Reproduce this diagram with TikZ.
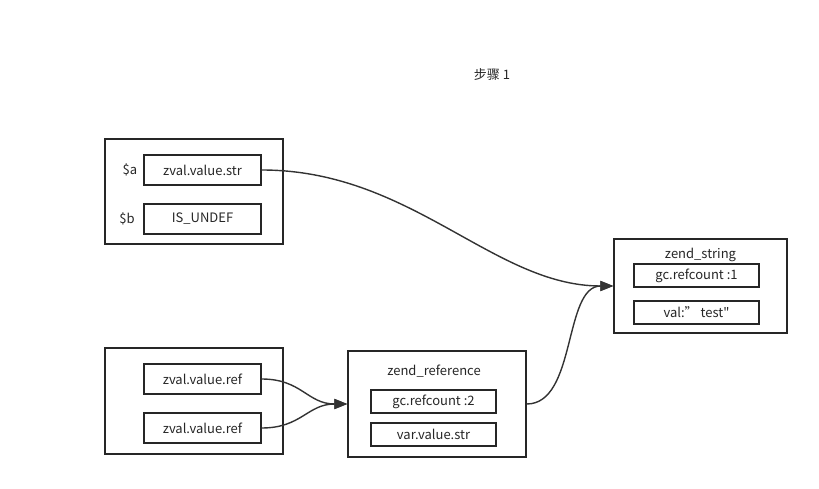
\documentclass[tikz,border=0pt]{standalone}
\usepackage{fontspec}
\setmainfont{Noto Sans CJK SC}[Ligatures=TeXOff]
\usetikzlibrary{arrows.meta}
\begin{document}
\begin{tikzpicture}[x=1pt,y=-1pt,
  box/.style={draw=black!85,line width=1.4pt,inner sep=0pt},
  lbl/.style={font=\fontsize{13}{15}\selectfont,text=black!85,inner sep=0pt},
  conn/.style={draw=black!80,line width=1.4pt,-{Triangle[length=13pt,width=10pt]}}]
\useasboundingbox (0,0) rectangle (819,489);
\node[lbl] (title) at (492,75) {步骤 1};
% group a/b
\node[box,minimum width=178pt,minimum height=105pt] (g1) at (194,191.5) {};
\node[box,lbl,minimum width=117pt,minimum height=30pt] (za) at (202.5,170) {zval.value.str};
\node[box,lbl,minimum width=117pt,minimum height=30pt] (zb) at (202.5,219) {IS\_UNDEF};
\node[lbl] (la) at (130,170) {\$a};
\node[lbl] (lb) at (127,219) {\$b};
% zend_string
\node[box,minimum width=173pt,minimum height=94pt] (zs) at (700.5,286) {};
\node[lbl] (zst) at (700.5,255) {zend\_string};
\node[box,lbl,minimum width=125pt,minimum height=23pt] (zs1) at (696.5,275.5) {gc.refcount :1};
\node[box,lbl,minimum width=125pt,minimum height=23pt] (zs2) at (696.5,312.5) {val:”\hspace{3pt}test"};
% group refs
\node[box,minimum width=178pt,minimum height=106pt] (g2) at (194,401) {};
\node[box,lbl,minimum width=117pt,minimum height=30pt] (r1) at (202.5,379) {zval.value.ref};
\node[box,lbl,minimum width=117pt,minimum height=30pt] (r2) at (202.5,428) {zval.value.ref};
% zend_reference
\node[box,minimum width=178pt,minimum height=106pt] (zr) at (437,404) {};
\node[lbl] (zrt) at (434,371) {zend\_reference};
\node[box,lbl,minimum width=125pt,minimum height=23pt] (zr1) at (433.5,401.5) {gc.refcount :2};
\node[box,lbl,minimum width=125pt,minimum height=23pt] (zr2) at (433.5,434.5) {var.value.str};
% connectors
\draw[conn] (za.east) .. controls +(150,0) and +(-120,0) .. (zs.west);
\draw[conn] (r1.east) .. controls +(40,0) and +(-40,0) .. (zr.west);
\draw[conn] (r2.east) .. controls +(40,0) and +(-40,0) .. (zr.west);
\draw[conn] (zr.east) .. controls +(50,0) and +(-50,0) .. (zs.west);
\end{tikzpicture}
\end{document}
